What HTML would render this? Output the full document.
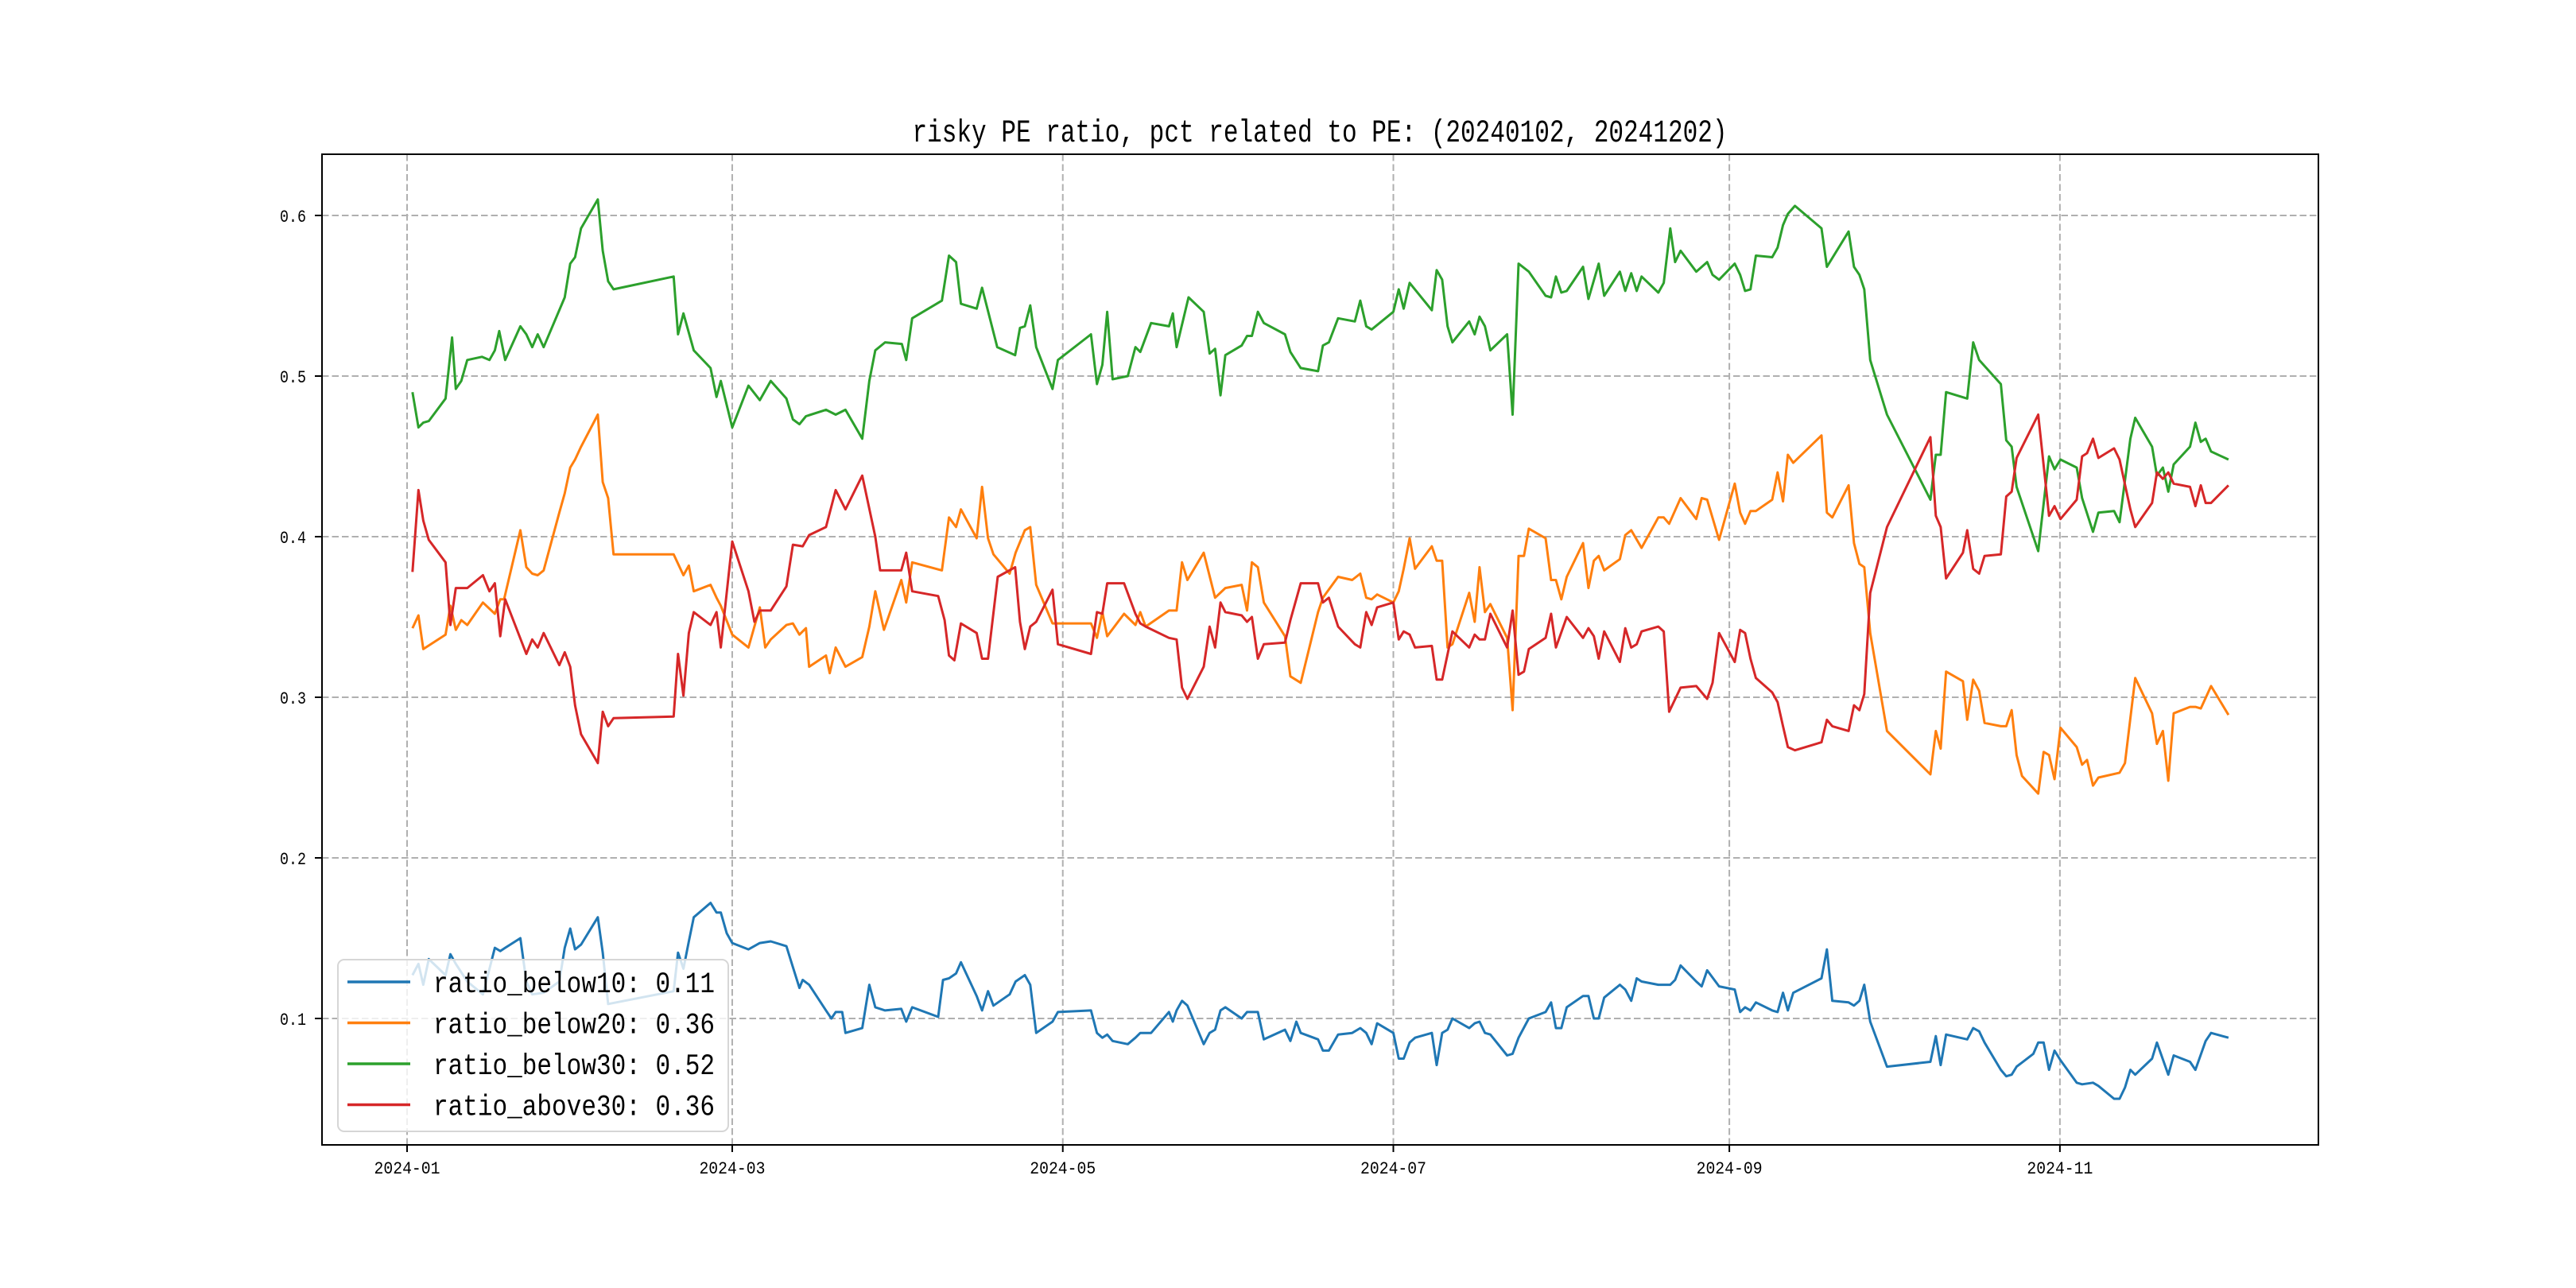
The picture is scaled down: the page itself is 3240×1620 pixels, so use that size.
<!DOCTYPE html>
<html><head><meta charset="utf-8"><style>
html,body{margin:0;padding:0;background:#fff;}
svg{display:block;}
text{font-family:"Liberation Mono","Noto Sans CJK SC",monospace;fill:#000;}
</style></head><body>
<svg id="chart" width="3240" height="1620" viewBox="0 0 3240 1620" xmlns="http://www.w3.org/2000/svg">
<rect x="0" y="0" width="3240" height="1620" fill="#fff"/>
<text x="1660" y="178" text-anchor="middle" font-size="40" textLength="1025" lengthAdjust="spacingAndGlyphs">risky PE ratio, pct related to PE: (20240102, 20241202)</text>
<g id="grid"></g>
<g id="series"></g>
<rect x="405" y="194" width="2511" height="1246" fill="none" stroke="#000" stroke-width="2"/>
<g id="ticks"></g>
<g id="legend"></g>
</svg>
<script>
// days since 2024-01-01
const yTicks = [0.1, 0.2, 0.3, 0.4, 0.5, 0.6];
const yTickLabels = ["0.1", "0.2", "0.3", "0.4", "0.5", "0.6"];
const xTickDays = [0, 60, 121, 182, 244, 305];
const xTickLabels = ["2024-01", "2024-03", "2024-05", "2024-07", "2024-09", "2024-11"];
const seriesNames = ["ratio_below10: 0.11", "ratio_below20: 0.36", "ratio_below30: 0.52", "ratio_above30: 0.36"];
const seriesColors = ["#1f77b4", "#ff7f0e", "#2ca02c", "#d62728"];

const below10Days = [1,2.1,3,4,7.1,8,9,11.1,14,16.2,17.2,18.1,20.9,22,23.1,25.2,28.1,29.1,30.1,31,32.1,35.2,36.1,37.1,49.2,50,51,52,52.9,56,57.1,57.9,59,60,63,65.1,67.1,70,71.2,72.4,73,74.2,77.3,78.3,79.1,80.3,80.9,84,85.3,86.4,88.2,91.2,92.1,93.2,98,98.9,100,101.3,102.2,105.1,106.1,107.2,108.2,111.2,112.3,114,115,116.1,119.1,120.1,126.2,127.3,128.3,129.2,130.2,133,134.4,135.3,137.3,140.6,141.3,142,143,144,147,148.1,149.1,150.1,151,154,155,157,158.1,162,163,164.1,164.9,168.1,169,170.1,171.8,174.4,175.9,177,178,179,182,183,183.9,185,186,189.1,190,191,192,192.9,196,197,197.9,198.9,199.9,203,204,205.1,207,210.1,211.1,212,213,214,217,218,219,219.9,220.9,223.8,224.8,225.9,226.9,227.8,230.9,233.1,234,235,237.9,238.9,239.9,242.1,245,246,246.9,247.9,248.9,251.9,252.9,253.9,254.8,255.8,261,262,263,266,267,268,268.9,270,273.1,281.1,282.1,283,284,287.9,289,290.1,291.1,294.1,295.1,296.1,297,300.1,301,302,303,304,305.1,308.1,309.1,311.1,312.1,315,316,317,318,318.9,322,322.9,325,326,329,330,331.9,332.9,336.1];
const below10Vals = [0.127,0.134,0.121,0.137,0.127,0.140,0.134,0.123,0.115,0.144,0.142,0.144,0.150,0.123,0.115,0.116,0.123,0.144,0.156,0.143,0.146,0.163,0.141,0.109,0.117,0.141,0.131,0.148,0.163,0.172,0.166,0.166,0.153,0.147,0.143,0.147,0.148,0.145,0.132,0.119,0.124,0.121,0.105,0.100,0.104,0.104,0.091,0.094,0.121,0.107,0.105,0.106,0.098,0.107,0.101,0.124,0.125,0.128,0.135,0.114,0.105,0.117,0.108,0.115,0.123,0.127,0.121,0.091,0.098,0.104,0.105,0.091,0.088,0.090,0.086,0.084,0.088,0.091,0.091,0.104,0.098,0.105,0.111,0.108,0.084,0.091,0.093,0.105,0.107,0.100,0.104,0.104,0.087,0.093,0.086,0.098,0.091,0.087,0.080,0.080,0.090,0.091,0.094,0.091,0.084,0.097,0.091,0.075,0.075,0.085,0.088,0.091,0.071,0.091,0.093,0.100,0.094,0.097,0.098,0.091,0.090,0.077,0.078,0.088,0.100,0.104,0.110,0.094,0.094,0.107,0.114,0.114,0.100,0.100,0.113,0.121,0.118,0.111,0.125,0.123,0.121,0.121,0.124,0.133,0.123,0.120,0.130,0.120,0.118,0.104,0.107,0.105,0.110,0.105,0.104,0.116,0.105,0.116,0.125,0.143,0.111,0.110,0.108,0.111,0.121,0.098,0.070,0.073,0.089,0.071,0.090,0.087,0.094,0.092,0.085,0.068,0.064,0.065,0.070,0.078,0.085,0.085,0.068,0.080,0.074,0.060,0.059,0.060,0.058,0.050,0.050,0.057,0.068,0.065,0.075,0.085,0.065,0.077,0.073,0.068,0.086,0.091,0.088];

const below20Days = [1,2.1,3,7.1,8,9,10,11.1,14,16.2,17.2,17.9,20.9,22,23.1,24.1,25.2,28.1,29.1,30.1,31,32.1,35.2,36.1,37.1,38.1,49.2,51,52,52.9,56,57.1,57.9,60,63,65.1,66.1,67.1,70,71.2,72.4,73.6,74.2,77.3,78,79.1,80.9,84,85.3,86.4,88,91.2,92.1,93.2,98.7,100,101.3,102.2,105.1,106.1,107.2,108.2,111.2,112.3,114,115,116.1,119.1,126.2,127.3,128.3,129.2,132.3,134.4,135.3,136.3,140.6,142,143,144,147,149.1,151,154,155,155.9,157,158.1,162,163,164.9,168.1,169,171.8,174.4,175.9,177,178,179,182,183,183.9,185,186,189.1,190,191,192,192.9,196,197,197.9,198.9,199.9,203,204,205.1,206.1,207,210.1,211.1,212,213,214,217,218,219,219.9,220.9,223.8,224.8,225.9,227.8,230.9,231.9,232.9,235,237.9,238.9,239.9,242.1,245,246,246.9,247.9,248.9,251.9,252.9,253.9,254.8,255.8,261,262,263,266,267,268,268.9,270,273.1,281.1,282.1,283,284,287.1,287.9,289,290.1,291.1,294.1,295.1,296.1,297,298,301,302,303,304,305.1,308.1,309.1,310,311.1,312.1,316,317,318.9,322,322.9,324,325,326,329,330,331,332.9,336.1];
const below20Vals = [0.343,0.351,0.330,0.339,0.357,0.342,0.348,0.345,0.359,0.352,0.361,0.361,0.404,0.381,0.377,0.376,0.379,0.415,0.427,0.443,0.448,0.456,0.476,0.434,0.424,0.389,0.389,0.376,0.382,0.366,0.370,0.362,0.357,0.339,0.331,0.356,0.331,0.336,0.345,0.346,0.339,0.343,0.319,0.326,0.315,0.331,0.319,0.325,0.344,0.366,0.342,0.373,0.359,0.384,0.379,0.412,0.406,0.417,0.399,0.431,0.399,0.389,0.377,0.390,0.404,0.406,0.370,0.346,0.346,0.337,0.353,0.338,0.352,0.345,0.353,0.344,0.354,0.354,0.384,0.373,0.390,0.362,0.368,0.370,0.354,0.384,0.381,0.359,0.338,0.313,0.309,0.353,0.362,0.375,0.373,0.377,0.362,0.361,0.364,0.359,0.366,0.380,0.399,0.380,0.394,0.385,0.385,0.331,0.333,0.365,0.347,0.381,0.353,0.358,0.337,0.292,0.388,0.388,0.405,0.399,0.373,0.373,0.361,0.375,0.396,0.368,0.385,0.388,0.379,0.386,0.401,0.404,0.393,0.412,0.412,0.408,0.424,0.411,0.424,0.423,0.398,0.433,0.415,0.408,0.416,0.416,0.423,0.440,0.422,0.451,0.446,0.463,0.415,0.412,0.432,0.396,0.383,0.381,0.340,0.279,0.252,0.279,0.268,0.316,0.310,0.286,0.311,0.304,0.284,0.282,0.282,0.292,0.264,0.251,0.240,0.266,0.264,0.249,0.281,0.269,0.258,0.261,0.245,0.250,0.253,0.259,0.312,0.290,0.271,0.279,0.248,0.290,0.294,0.294,0.293,0.307,0.289];

const below30Days = [1,2.1,3,4,7.1,8.3,9,10,11.1,13.8,15.2,16.2,17,18.1,20.9,22,23.1,24.1,25.2,29.1,30.1,31,32.1,35.2,36.1,37.1,38.1,49.2,50,51,52.9,56,57.1,57.9,60,63,65.1,67.1,70,71.2,72.4,73.6,77.3,79.1,80.9,84,85.3,86.4,88.2,91.3,92.1,93.2,98.7,100,101.3,102.2,105.1,106.1,108.9,112.2,113.1,114,115,116.1,119.1,120.1,126.2,127.3,128.3,129.2,130.2,133,134.4,135.3,137.3,140.6,141.3,142,144.2,147,148.1,149.1,150.1,151,154,155,155.9,157,158.1,162,163,164.9,168.1,169,170.1,171.8,174.9,175.9,177,178,182,183,183.9,185,189.1,190,191,192,192.9,196,197,197.9,198.9,199.9,203,204,205.1,207,210.1,211.1,212,213,214,217,218,219.9,220.9,223.8,224.8,225.9,226.9,227.8,230.9,231.9,233.1,234,235,237.9,239.9,240.9,242.1,245,246,246.9,247.9,248.9,251.9,252.9,253.9,254.8,256.1,261,262,266,267,268,268.9,270,273.1,281.1,282.1,283,284,287.9,289,290.1,294.1,295.1,296.1,297,301,303,304,305.1,308.1,309.1,311.1,312.1,315,316,318,318.9,322,322.9,324,325,326,329,330,331,331.9,332.9,336.1];
const below30Vals = [0.490,0.468,0.471,0.472,0.486,0.524,0.492,0.497,0.510,0.512,0.510,0.516,0.528,0.510,0.531,0.526,0.518,0.526,0.518,0.549,0.570,0.574,0.592,0.610,0.578,0.559,0.554,0.562,0.526,0.539,0.516,0.505,0.487,0.497,0.468,0.494,0.485,0.497,0.486,0.473,0.470,0.475,0.479,0.476,0.479,0.461,0.497,0.516,0.521,0.520,0.510,0.536,0.547,0.575,0.571,0.545,0.542,0.555,0.518,0.513,0.530,0.531,0.544,0.518,0.492,0.510,0.526,0.495,0.507,0.540,0.498,0.500,0.518,0.515,0.533,0.531,0.539,0.518,0.549,0.540,0.514,0.517,0.488,0.513,0.519,0.525,0.525,0.540,0.533,0.526,0.515,0.505,0.503,0.519,0.521,0.536,0.534,0.547,0.531,0.529,0.540,0.554,0.542,0.558,0.541,0.566,0.560,0.531,0.521,0.534,0.526,0.537,0.531,0.516,0.526,0.476,0.570,0.565,0.550,0.549,0.562,0.552,0.553,0.568,0.548,0.570,0.550,0.565,0.553,0.564,0.553,0.562,0.552,0.558,0.592,0.571,0.578,0.565,0.571,0.563,0.560,0.570,0.563,0.553,0.554,0.575,0.574,0.580,0.594,0.601,0.606,0.592,0.568,0.590,0.568,0.563,0.554,0.510,0.476,0.423,0.451,0.451,0.490,0.486,0.521,0.510,0.495,0.460,0.456,0.431,0.391,0.450,0.442,0.448,0.443,0.424,0.403,0.415,0.416,0.409,0.461,0.474,0.456,0.438,0.443,0.428,0.445,0.456,0.471,0.459,0.461,0.453,0.448];

const above30Days = [1,2.1,3,4,7.1,8,9,11.1,14,15.2,16.2,17.2,18.1,22,23.1,24.1,25.2,28.1,29.1,30.1,31,32.1,35.2,36.1,37.1,38.1,49.2,50,51,52,52.9,56,57.1,57.9,60,63,64.1,65.1,67.1,70,71.2,73,74.2,77.3,79.1,80.9,84,86.4,87.3,91.2,92.1,93.2,98,99.2,100,101,102.2,105.1,106.1,107.2,109,112.2,113.1,114,115,116.1,119.1,120.1,126.2,127.3,128.3,129.2,132.3,134.4,135.3,136.3,140.6,142,143,144,147,148.1,149.1,150.1,151,154,155,155.9,157,158.1,162,163,164.9,168.1,169,170.1,171.8,174.9,175.9,177,178,179,182,183,183.9,185,186,189.1,190,191,192.9,196,197,197.9,198.9,199.9,203,204,205.1,206.1,207,210.1,211.1,212,214,217,218,219,219.9,220.9,223.8,224.8,225.9,226.9,227.8,230.9,231.9,232.9,235,237.9,239.9,240.9,242.1,245,246,246.9,247.9,248.9,251.9,252.9,253.9,254.8,256.1,261,262,263,266,267,268,268.9,270,273.1,281.1,282.1,283,284,287.1,287.9,289,290.1,291.1,294.1,295.1,296.1,297,301,303,304,305.1,308.1,309.1,310,311.1,312.1,315,316,318,318.9,322,322.9,324,325,326,329,330,331,331.9,332.9,336.1];
const above30Vals = [0.378,0.429,0.410,0.398,0.384,0.345,0.368,0.368,0.376,0.366,0.371,0.338,0.361,0.327,0.336,0.331,0.340,0.320,0.328,0.319,0.295,0.277,0.259,0.291,0.282,0.287,0.288,0.327,0.301,0.340,0.353,0.345,0.353,0.331,0.397,0.366,0.347,0.354,0.354,0.369,0.395,0.394,0.401,0.406,0.429,0.417,0.438,0.400,0.379,0.379,0.390,0.366,0.363,0.348,0.326,0.323,0.346,0.340,0.324,0.324,0.375,0.381,0.347,0.330,0.344,0.347,0.367,0.333,0.327,0.353,0.352,0.371,0.371,0.352,0.346,0.344,0.337,0.336,0.306,0.299,0.319,0.344,0.331,0.359,0.353,0.351,0.347,0.350,0.324,0.333,0.334,0.348,0.371,0.371,0.359,0.362,0.344,0.333,0.331,0.353,0.345,0.356,0.359,0.336,0.341,0.339,0.331,0.332,0.311,0.311,0.341,0.331,0.339,0.336,0.336,0.352,0.331,0.354,0.314,0.316,0.330,0.337,0.352,0.331,0.350,0.337,0.343,0.338,0.324,0.341,0.322,0.343,0.331,0.333,0.341,0.344,0.341,0.291,0.306,0.307,0.299,0.309,0.340,0.322,0.342,0.340,0.324,0.312,0.303,0.297,0.282,0.269,0.267,0.272,0.286,0.282,0.279,0.295,0.292,0.302,0.365,0.406,0.462,0.413,0.406,0.374,0.390,0.404,0.380,0.377,0.388,0.389,0.425,0.428,0.449,0.476,0.413,0.419,0.411,0.423,0.450,0.452,0.461,0.449,0.455,0.448,0.417,0.406,0.421,0.440,0.436,0.440,0.433,0.431,0.419,0.432,0.421,0.421,0.432];

const NS = "http://www.w3.org/2000/svg";
function xScale(d){ return 512 + d * 6.816; }
function yScale(v){ return 1281 - (v - 0.1) * 2020; }
function mk(tag, attrs, parent){
  const el = document.createElementNS(NS, tag);
  for (const k in attrs) el.setAttribute(k, attrs[k]);
  parent.appendChild(el);
  return el;
}
const grid = document.getElementById('grid');
const ticks = document.getElementById('ticks');
const series = document.getElementById('series');
const legend = document.getElementById('legend');

yTicks.forEach((v, i) => {
  const y = yScale(v);
  const g = mk('line', {x1:405, x2:2916, y1:y, y2:y, stroke:'#b0b0b0', 'stroke-width':2, 'stroke-dasharray':'8.5,4'}, grid);
  
  
  const t = mk('line', {x1:396, x2:405, y1:y, y2:y, stroke:'#000', 'stroke-width':2}, ticks);
  
  
  const lb = mk('text', {x:385, y:y + 8, 'text-anchor':'end', 'font-size':22, textLength:33, lengthAdjust:'spacingAndGlyphs'}, ticks);
  lb.textContent = yTickLabels[i];
  
  
});
xTickDays.forEach((d, i) => {
  const x = xScale(d);
  const g = mk('line', {x1:x, x2:x, y1:194, y2:1440, stroke:'#b0b0b0', 'stroke-width':2, 'stroke-dasharray':'8.5,4'}, grid);
  
  
  const t = mk('line', {x1:x, x2:x, y1:1440, y2:1449, stroke:'#000', 'stroke-width':2}, ticks);
  
  
  const lb = mk('text', {x:x, y:1476, 'text-anchor':'middle', 'font-size':22, textLength:83, lengthAdjust:'spacingAndGlyphs'}, ticks);
  lb.textContent = xTickLabels[i];
  
  
});

const allDays = [below10Days, below20Days, below30Days, above30Days];
const allVals = [below10Vals, below20Vals, below30Vals, above30Vals];
const lineNames = ['line-ratio-below10', 'line-ratio-below20', 'line-ratio-below30', 'line-ratio-above30'];
allDays.forEach((days, s) => {
  const vals = allVals[s];
  const pts = days.map((d, i) => xScale(d).toFixed(1) + ',' + yScale(vals[i]).toFixed(1)).join(' ');
  const pl = mk('polyline', {points:pts, fill:'none', stroke:seriesColors[s], 'stroke-width':3, 'stroke-linejoin':'round'}, series);
  
  
});

const box = mk('rect', {x:425, y:1207, width:491, height:216, rx:8, fill:'#fff', 'fill-opacity':0.8, stroke:'#d6d6d6', 'stroke-width':2}, legend);


seriesNames.forEach((n, i) => {
  const y = 1235 + i * 51.5;
  const ln = mk('line', {x1:437, x2:516, y1:y, y2:y, stroke:seriesColors[i], 'stroke-width':3.5}, legend);
  
  
  const tx = mk('text', {x:545, y:y + 13, 'font-size':37, textLength:354, lengthAdjust:'spacingAndGlyphs'}, legend);
  tx.textContent = n;
  
  
});
</script>
</body></html>
